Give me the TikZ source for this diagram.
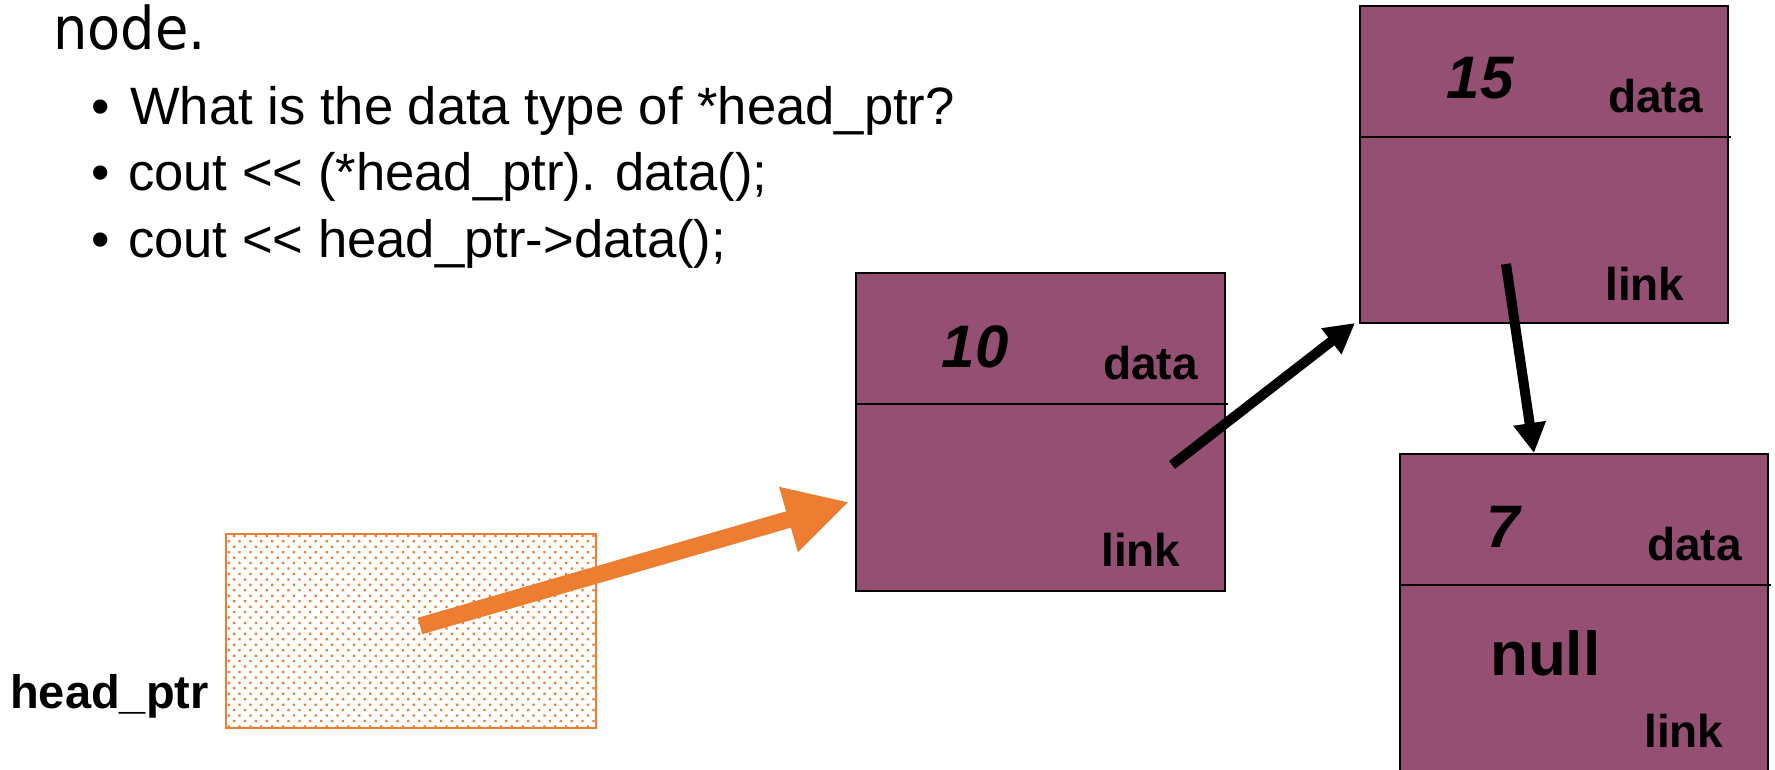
\documentclass[tikz,border=0pt]{standalone}
\usepackage{graphicx}
\usepackage{fontspec}
\setmainfont{Liberation Sans}[Ligatures=TeXOff]
\newfontfamily\headingfont{DejaVu Sans}
\usetikzlibrary{arrows.meta,patterns.meta}
\definecolor{cellfill}{RGB}{149,79,114}
\definecolor{ptrorange}{RGB}{237,125,49}

\begin{document}
\begin{tikzpicture}[x=1pt,y=-1pt,
  cell/.style={draw=black, line width=2.5pt, fill=cellfill, inner sep=0pt, outer sep=0pt, anchor=north west},
  divider/.style={draw=black, line width=2.5pt},
  celltag/.style={inner sep=0pt, font=\fontsize{46}{50}\selectfont\bfseries},
  cellval/.style={inner sep=0pt, anchor=base, font=\fontsize{60}{64}\selectfont\bfseries\itshape},
  bodytext/.style={inner sep=0pt, anchor=base west, font=\fontsize{52.6}{60}\selectfont},
  ptrbox/.style={draw=ptrorange, line width=2.5pt, inner sep=0pt, outer sep=0pt, anchor=north west,
    pattern={Dots[distance=7.7pt, angle=45, radius=1.6pt]}, pattern color=ptrorange},
  ptrarrow/.style={line width=10pt, -{Triangle[length=30pt,width=31pt]}},
  headarrow/.style={draw=ptrorange, line width=17pt, -{Triangle[length=63pt,width=63pt]}}
]
\fill[white] (0,0) rectangle (1775,770);
\clip (0,0) rectangle (1775,770);

% slide text
\node[inner sep=0pt, anchor=base west, font=\headingfont\fontsize{59}{64}\selectfont] (title) at (53,50) {\scalebox{0.92}[1]{node.}};
\node[bodytext, anchor=base] (b1) at (101,125) {•};
\node[bodytext] (l1) at (130,125) {What is the data type of *head\_ptr?};
\node[bodytext, anchor=base] (b2) at (101,191) {•};
\node[bodytext] (l2) at (128,191) {cout << (*head\_ptr). data();};
\node[bodytext, anchor=base] (b3) at (101,258) {•};
\node[bodytext] (l3) at (128,258) {cout << head\_ptr->data();};

% the pointer variable
\node[ptrbox, minimum width=370pt, minimum height=194pt] (hp) at (226,534) {};
\node[inner sep=0pt, anchor=base west, font=\fontsize{47}{50}\selectfont\bfseries] (hplabel) at (10,708) {head\_ptr};

% list cells
\node[cell, minimum width=369pt, minimum height=318pt] (n10) at (856,273) {};
\draw[divider] (856,404) -- (1228,404);
\node[cellval] (n10val) at (975,367) {10};
\node[celltag, anchor=base east] (n10data) at (1198,379) {data};
\node[celltag, anchor=base west] (n10link) at (1101,566) {link};

\node[cell, minimum width=368pt, minimum height=317pt] (n15) at (1360,6) {};
\draw[divider] (1360,137) -- (1731,137);
\node[cellval] (n15val) at (1480,99) {15};
\node[celltag, anchor=base east] (n15data) at (1703,113) {data};
\node[celltag, anchor=base west] (n15link) at (1605,300) {link};

\node[cell, minimum width=368pt, minimum height=340pt] (n7) at (1400,454) {};
\draw[divider] (1400,585) -- (1771,585);
\node[cellval] (n7val) at (1503,547) {7};
\node[celltag, anchor=base east] (n7data) at (1742,560) {data};
\node[inner sep=0pt, anchor=base west, font=\fontsize{62}{66}\selectfont\bfseries] (n7null) at (1490,675) {null};
\node[celltag, anchor=base west] (n7link) at (1644,747) {link};

% pointer ends
\coordinate (hpfrom) at (420,626);
\coordinate (n10in) at (849,502);
\coordinate (n10from) at (1172,465);
\coordinate (n15in) at (1355,323);
\coordinate (n15from) at (1506,264);
\coordinate (n7in) at (1534,453);

\draw[headarrow] (hpfrom) -- (n10in);
\draw[ptrarrow] (n10from) -- (n15in);
\draw[ptrarrow] (n15from) -- (n7in);
\end{tikzpicture}
\end{document}
